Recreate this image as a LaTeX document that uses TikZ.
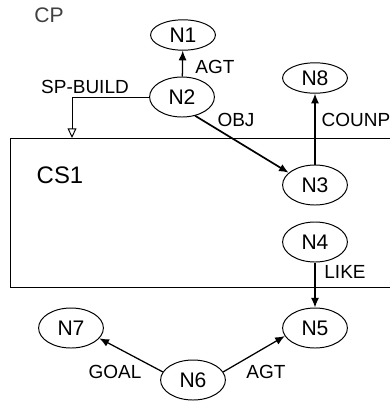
\documentclass[tikz,border=0pt]{standalone}
\usepackage{fontspec}
\setmainfont{Liberation Sans}
\usepackage{tikz}
\usetikzlibrary{arrows.meta,shapes.geometric}

\begin{document}
\begin{tikzpicture}[x=0.025cm, y=-0.025cm,
  concept/.style={ellipse, draw, line width=0.7pt, minimum width=1.62cm, minimum height=1cm, inner sep=0pt, font=\fontsize{15}{17}\selectfont},
  small/.style={minimum height=0.76cm},
  rel/.style={font=\fontsize{13.5}{15}\selectfont, inner sep=1pt},
  link/.style={line width=0.9pt, -{Latex[length=2.4mm,width=2mm]}}]
\useasboundingbox (0,0) rectangle (390,403);
% nodes
\node[concept, small] (n1) at (183,35) {N1};
\node[concept] (n2) at (182,97) {N2};
\node[concept, small] (n8) at (315,78) {N8};
\node[concept] (n3) at (315,185) {N3};
\node[concept] (n4) at (315,242) {N4};
\node[concept] (n5) at (315,328) {N5};
\node[concept] (n7) at (71,328) {N7};
\node[concept] (n6) at (193,380) {N6};
% CS1 box, open to the right
\draw[line width=0.6pt] (390,138) -- (10,138) -- (10,287) -- (390,287);
\coordinate (sp) at (72,138);
% labels
\node[font=\fontsize{15}{17}\selectfont, text=black!75] (cp) at (49,15) {CP};
\node[font=\fontsize{17}{19}\selectfont] (cs1) at (60,175) {CS1};
\node[rel] (agt1) at (215,67) {AGT};
\node[rel] (spb) at (85,87) {SP-BUILD};
\node[rel] (obj) at (236,120) {OBJ};
\node[rel] (counp) at (356,120) {COUNP};
\node[rel] (like) at (345,272) {LIKE};
\node[rel] (goal) at (115,372) {GOAL};
\node[rel] (agt2) at (266,372) {AGT};
% connectors
\draw[link] (n2) -- (n1);
\draw[line width=0.7pt, -{Triangle[open, length=2.4mm, width=2.2mm]}] (n2.west) -| (sp);
\draw[link, line width=1.2pt] (n2.-55) -- (n3.155);
\draw[link] (n3) -- (n8);
\draw[link] (n4) -- (n5);
\draw[link] (n6.165) -- (n7.-20);
\draw[link] (n6.15) -- (n5.195);
\end{tikzpicture}
\end{document}
